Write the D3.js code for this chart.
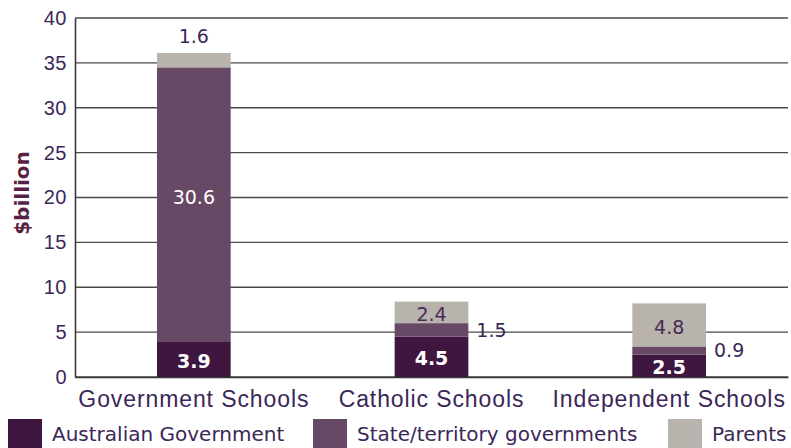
<!DOCTYPE html>
<html>
<head>
<meta charset="utf-8">
<script src="https://cdn.jsdelivr.net/npm/d3@7"></script>
<style>
  body { margin: 0; background: #fff; }
  svg { display: block; font-family: "DejaVu Sans", sans-serif; }
</style>
</head>
<body>
<div id="chart"></div>
<script>
// data ($billion)
const categories = ["Government Schools", "Catholic Schools", "Independent Schools"];
const seriesNames = ["Australian Government", "State/territory governments", "Parents"];
const australianGov = [3.9, 4.5, 2.5];
const stateGov = [30.6, 1.5, 0.9];
const parents = [1.6, 2.4, 4.8];
const yTicks = [0, 5, 10, 15, 20, 25, 30, 35, 40];

const colors = ["#3f1640", "#674865", "#b8b3ac"];
const textDark = "#3b2757";

const width = 791, height = 448;
const margin = {top: 18, right: 3, bottom: 71, left: 75};
const innerW = width - margin.left - margin.right;
const innerH = height - margin.top - margin.bottom;

const rows = categories.map((c, i) => ({
  category: c,
  [seriesNames[0]]: australianGov[i],
  [seriesNames[1]]: stateGov[i],
  [seriesNames[2]]: parents[i]
}));
const stacked = d3.stack().keys(seriesNames)(rows);

const svg = d3.select("#chart").append("svg")
    .attr("width", width)
    .attr("height", height);

const g = svg.append("g")
    .attr("transform", `translate(${margin.left},${margin.top})`);

const x = d3.scaleBand()
    .domain(categories)
    .range([0, innerW])
    .paddingInner(0.69)
    .paddingOuter(0.345);

const y = d3.scaleLinear()
    .domain([0, 40])
    .range([innerH, 0]);

// gridlines
g.append("g")
    .selectAll("line")
    .data(yTicks)
  .join("line")
    .attr("x1", 0)
    .attr("x2", innerW)
    .attr("y1", d => y(d))
    .attr("y2", d => y(d))
    .attr("stroke", "#4a4a4a")
    .attr("stroke-width", 1.4);

// y axis
const yAxis = g.append("g")
    .call(d3.axisLeft(y).tickValues(yTicks).tickSize(0).tickPadding(8));
yAxis.select(".domain").attr("stroke", "#3a3a3a").attr("stroke-width", 1.6);
yAxis.selectAll("text")
    .attr("fill", textDark)
    .style("font-size", "20px")
    .style("letter-spacing", "0.5px");

// x axis
const xAxis = g.append("g")
    .attr("transform", `translate(0,${innerH})`)
    .call(d3.axisBottom(x).tickSize(0).tickPadding(10));
xAxis.select(".domain").attr("stroke", "#3a3a3a").attr("stroke-width", 1.6);
xAxis.selectAll("text")
    .attr("fill", textDark)
    .attr("dy", "0.85em")
    .style("font-size", "23px")
    .style("letter-spacing", "0.9px");

// y title
svg.append("text")
    .attr("transform", "translate(29,193) rotate(-90)")
    .attr("text-anchor", "middle")
    .attr("fill", "#5a1f44")
    .style("font-size", "20px")
    .style("font-weight", "bold")
    .text("$billion");

// bars
const layers = g.append("g")
    .selectAll("g")
    .data(stacked)
  .join("g")
    .attr("fill", (d, i) => colors[i]);

layers.selectAll("rect")
    .data(d => d)
  .join("rect")
    .attr("x", d => x(d.data.category))
    .attr("width", x.bandwidth())
    .attr("y", d => y(d[1]))
    .attr("height", d => y(d[0]) - y(d[1]));

// value labels
stacked.forEach((layer, li) => {
  layer.forEach(d => {
    const v = d[1] - d[0];
    const segH = y(d[0]) - y(d[1]);
    const cx = x(d.data.category) + x.bandwidth() / 2;
    const small = segH < 18;
    const top = li === stacked.length - 1;
    const t = g.append("text")
        .attr("dy", "0.35em")
        .style("font-size", "19px")
        .text(d3.format(".1f")(v));
    if (small && top) {
      t.attr("x", cx).attr("y", y(d[1]) - 17)
        .attr("text-anchor", "middle").attr("fill", textDark);
    } else if (small) {
      t.attr("x", x(d.data.category) + x.bandwidth() + 8)
        .attr("y", (y(d[0]) + y(d[1])) / 2)
        .attr("fill", textDark);
    } else {
      // tall segments: label a little above centre, as in the original
      const mid = (y(d[0]) + y(d[1])) / 2;
      t.attr("x", cx).attr("y", segH > 100 ? mid - 7 : mid + 2)
        .attr("text-anchor", "middle")
        .attr("fill", li === 2 ? "#4a2a55" : "#fff")
        .style("font-weight", li === 0 ? "bold" : "normal");
    }
  });
});

// legend
const legendX = [8, 313, 668];
const legend = svg.append("g")
    .selectAll("g")
    .data(seriesNames)
  .join("g")
    .attr("transform", (d, i) => `translate(${legendX[i]},419)`);

legend.append("rect")
    .attr("width", 34)
    .attr("height", 34)
    .attr("fill", (d, i) => colors[i]);

legend.append("text")
    .attr("x", 44)
    .attr("y", 15)
    .attr("dy", "0.35em")
    .attr("fill", textDark)
    .style("font-size", "20px")
    .text(d => d);
</script>
</body>
</html>
